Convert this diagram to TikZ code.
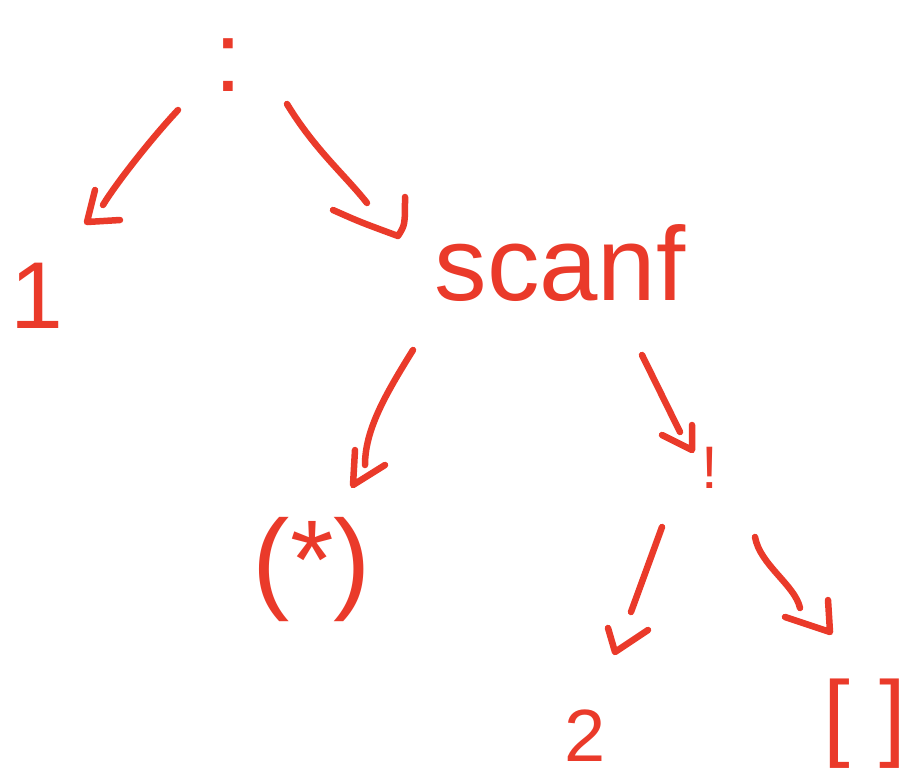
\documentclass[tikz,border=0pt]{standalone}
\usepackage{fontspec}
\setmainfont{Liberation Sans}
\definecolor{ink}{RGB}{234,58,42}
\begin{document}
\begin{tikzpicture}[x=1pt,y=-1pt,
  lbl/.style={inner sep=0pt,anchor=base,text=ink},
  pen/.style={draw=ink,line width=6.5pt,line cap=round,line join=round}]
\useasboundingbox[fill=white] (0,0) rectangle (918,780);
% labels
\node[lbl,font=\fontsize{100}{100}\selectfont] (root) at (228,91) {:};
\node[lbl,font=\fontsize{95}{95}\selectfont] (one) at (37,328) {1};
\node[lbl,font=\fontsize{105}{105}\selectfont] (scanf) at (560,300) {scanf};
\node[lbl,font=\fontsize{112}{112}\selectfont] (star) at (312,598) {(*)};
\node[lbl,font=\fontsize{60}{60}\selectfont] (bang) at (710,488) {!};
\node[lbl,font=\fontsize{74}{74}\selectfont] (two) at (585,761) {2};
\node[lbl,font=\fontsize{96}{96}\selectfont] (brk) at (865,748) {[\kern30pt]};
% shaft ends and arrow heads
\coordinate (a1s) at (178,110); \coordinate (a1e) at (103,205);
\coordinate (h1a) at (95,190);  \coordinate (h1t) at (87,222);  \coordinate (h1b) at (120,220);
\coordinate (a2s) at (287,104); \coordinate (a2e) at (367,203);
\coordinate (h2a) at (333,210); \coordinate (h2t) at (398,236); \coordinate (h2b) at (405,197);
\coordinate (a3s) at (413,350); \coordinate (a3e) at (365,465);
\coordinate (h3a) at (355,450); \coordinate (h3t) at (353,485); \coordinate (h3b) at (385,465);
\coordinate (a4s) at (642,355); \coordinate (a4e) at (680,432);
\coordinate (h4a) at (662,435); \coordinate (h4t) at (692,450); \coordinate (h4b) at (692,425);
\coordinate (a5s) at (662,527); \coordinate (a5e) at (631,612);
\coordinate (h5a) at (608,628); \coordinate (h5t) at (615,652); \coordinate (h5b) at (648,630);
\coordinate (a6s) at (755,537); \coordinate (a6e) at (800,608);
\coordinate (h6a) at (785,617); \coordinate (h6t) at (830,632); \coordinate (h6b) at (828,600);
% shafts
\draw[pen] (a1s) .. controls (150,140) and (115,185) .. (a1e);
\draw[pen] (a2s) .. controls (315,150) and (345,175) .. (a2e);
\draw[pen] (a3s) .. controls (385,395) and (365,430) .. (a3e);
\draw[pen] (a4s) -- (a4e);
\draw[pen] (a5s) -- (a5e);
\draw[pen] (a6s) .. controls (760,565) and (795,585) .. (a6e);
% heads
\draw[pen] (h1a) -- (h1t) -- (h1b);
\draw[pen] (h2a) .. controls (360,222) .. (h2t) .. controls (405,225) .. (h2b);
\draw[pen] (h3a) -- (h3t) -- (h3b);
\draw[pen] (h4a) -- (h4t) -- (h4b);
\draw[pen] (h5a) -- (h5t) -- (h5b);
\draw[pen] (h6a) -- (h6t) -- (h6b);
\end{tikzpicture}
\end{document}
